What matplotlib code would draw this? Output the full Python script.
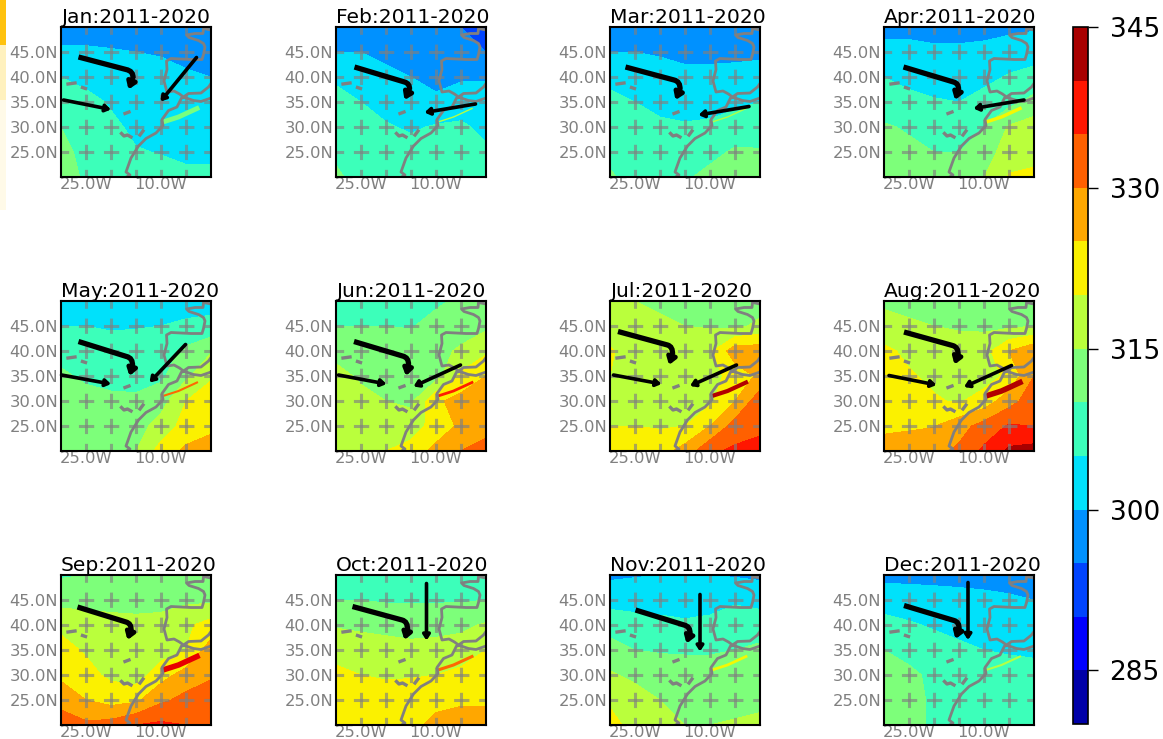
import numpy as np
import matplotlib
matplotlib.use('Agg')
import matplotlib.pyplot as plt
from matplotlib.patches import PathPatch, Rectangle
from matplotlib.path import Path

# ---- grid of the fields (values in K, rows from 50N down to 20N) ----
LONS = [-30, -25, -20, -15, -10, -5, 0]
LATS = [50, 45, 40, 35, 30, 25, 20]
LEVELS = list(range(280, 350, 5))
CBAR_TICKS = [285, 300, 315, 330, 345]
MONTHS = ['Jan', 'Feb', 'Mar', 'Apr', 'May', 'Jun', 'Jul', 'Aug', 'Sep', 'Oct', 'Nov', 'Dec']
X_TICKS = [-25, -20, -15, -10, -5]
Y_TICKS = [25, 30, 35, 40, 45]

JAN = [[297, 297, 297, 296.5, 296.5, 296, 296],
       [301, 301, 300.5, 300, 299.5, 298, 297],
       [305, 303.5, 303, 302, 302, 301, 300],
       [307.5, 306.5, 304.5, 303, 303, 303, 303],
       [310, 307.5, 306, 304, 303, 304, 304],
       [311, 309, 306.5, 305.3, 304.8, 304, 304],
       [311.5, 309.5, 308, 307, 306.5, 306, 306]]
FEB = [[295, 295.5, 295.5, 295.5, 295.5, 295, 293.5],
       [300, 300, 298.5, 297.5, 296.5, 296, 295],
       [304, 303, 301.5, 300, 298.5, 299.5, 299.5],
       [307, 305, 303, 302, 301, 302, 302.5],
       [307.5, 306.5, 305.5, 304.3, 305.5, 306, 303.5],
       [309.5, 308.5, 307.5, 307, 307, 307, 306],
       [310.5, 309, 308, 308, 308, 308, 307.5]]
MAR = [[297, 297, 297, 297, 297, 297, 297.5],
       [300, 300, 299.5, 298.5, 298.5, 298.5, 299],
       [303.5, 302.5, 302, 301.5, 301.5, 302, 302],
       [306.5, 305, 303.5, 303, 303, 303.5, 305],
       [308, 307, 306, 305.5, 306, 308, 307],
       [309, 308.5, 308, 308, 309, 310.5, 310.5],
       [310.5, 308.5, 309, 309.5, 311, 311.5, 311.5]]
APR = [[299, 299, 299, 299, 299, 299, 299.5],
       [301, 301, 300.5, 300.5, 300.8, 302, 302.5],
       [305, 303.5, 302.5, 302.5, 303.5, 305.5, 307],
       [307.5, 306.5, 305.5, 305, 307, 308.5, 311.5],
       [310.5, 309.5, 308, 308, 310, 315.5, 317.5],
       [312, 311, 310, 310, 313, 317, 318.5],
       [313, 312, 311.5, 312, 315, 320.5, 321]]
MAY = [[302, 302, 302, 302, 302, 302.5, 303],
       [305, 305, 304.5, 304.7, 305, 306, 306.5],
       [309, 308, 307, 307, 308, 311, 314.5],
       [310.5, 309.5, 308.5, 308, 309, 314, 319.5],
       [312, 311, 311, 311, 313, 320, 322],
       [313, 313, 313, 313, 317, 322, 324],
       [314, 314, 314, 315, 322, 326, 327]]
JUN = [[308, 308, 308.5, 309, 309.5, 310.5, 311],
       [310, 310, 310, 309.8, 311, 312, 314],
       [314, 313, 312, 311.5, 313, 316, 319],
       [316, 314.5, 313, 312, 313, 321, 325],
       [317, 316, 315, 314, 324, 327, 327],
       [318, 317.5, 317, 317.5, 322, 326, 328],
       [319.5, 320, 320, 322, 326.5, 330, 332]]
JUL = [[316, 315, 314, 313, 313, 313, 313],
       [318, 317, 316, 315, 314.5, 314, 316],
       [320.5, 318, 317.5, 317, 319, 328, 328],
       [320, 318.5, 318, 317.5, 318, 322, 326],
       [319, 319, 318, 318, 319, 325, 333],
       [320, 320, 319.5, 320, 325, 332, 334],
       [321, 322, 323, 327, 334, 336, 336.5]]
AUG = [[314, 313, 313, 313, 313, 313, 314],
       [317, 316, 315, 314.5, 314, 314, 315],
       [321, 319, 317.5, 317, 318, 325, 329],
       [321.5, 320.5, 319, 318, 318, 321, 330],
       [322, 322, 320.5, 319.5, 322, 328, 333],
       [324, 324.5, 324.8, 328, 332, 335.5, 335],
       [327, 327, 328, 331, 336, 341, 342]]
SEP = [[309.5, 310, 311, 311, 311, 312, 313],
       [313, 313, 313, 313, 313.5, 314, 314],
       [319, 318, 317, 316.5, 316.5, 319, 322],
       [321.5, 319.5, 318, 317, 317.5, 320, 327.5],
       [324, 321.5, 319, 317.5, 323, 327, 329.5],
       [328, 325, 323, 324, 329, 331.5, 332],
       [333, 331, 332, 335, 336, 335, 334]]
OCT = [[305, 306.5, 307.5, 308, 308, 308, 308],
       [310, 310, 309.5, 309.5, 309.5, 309.5, 310],
       [314.5, 314, 313.5, 313, 313.5, 314, 315.5],
       [318.5, 317.5, 317, 316.5, 316.5, 317, 320],
       [321, 320, 319.5, 319.5, 320, 321.5, 322],
       [323, 322.5, 322, 323, 324, 324.5, 324.5],
       [325, 325, 324, 324, 326, 326.5, 326.5]]
NOV = [[299, 299.5, 300, 300, 300, 299.5, 299],
       [303.5, 304, 303.5, 303.5, 303.5, 304.5, 303.5],
       [307.5, 306, 306, 305.5, 306, 307, 307.5],
       [312.5, 310, 309.5, 309.5, 309.5, 310, 311],
       [315.5, 314, 313, 312, 312, 312.5, 313],
       [319, 317, 315, 313.5, 313.5, 313.5, 314],
       [322, 318, 316, 315, 315, 315.5, 316]]
DEC = [[298.5, 298.5, 298.5, 298.5, 298.5, 298.5, 297.5],
       [303, 302.5, 302, 301.5, 301, 300.5, 300],
       [306.5, 305.5, 304.5, 303.5, 303, 303, 303],
       [310, 308.5, 307, 306, 305, 304.5, 304],
       [311.5, 311, 309, 308, 307, 307, 307],
       [312, 311, 309.5, 308.5, 308, 308, 308],
       [312.5, 311, 309.5, 309, 308.5, 308.5, 308.5]]
FIELDS = [JAN, FEB, MAR, APR, MAY, JUN, JUL, AUG, SEP, OCT, NOV, DEC]

# ---- thick bent jet track (lon, lat) per month, last point is the tip ----
TRACKS = [
    [(-26.5, 44), (-17, 41.5), (-15.6, 39.8), (-16.5, 37.5)],
    [(-26.3, 42), (-16.3, 39), (-15.3, 37.5), (-16.3, 35.4)],
    [(-26.9, 42), (-17.2, 39.4), (-16, 37.5), (-16.9, 35.4)],
    [(-26.1, 42), (-16.1, 39), (-15.1, 37.5), (-15.8, 35.4)],
    [(-26.5, 41.9), (-16.9, 38.9), (-15.7, 37), (-16.3, 35)],
    [(-26.4, 41.9), (-16.7, 39), (-15.5, 37.2), (-16, 35)],
    [(-28.4, 43.9), (-18.5, 41.2), (-17.5, 39.3), (-18.2, 37.2)],
    [(-26, 43.8), (-16.3, 41.1), (-15.2, 39.3), (-15.9, 37.3)],
    [(-26.7, 43.6), (-17, 40.6), (-16, 39), (-16.7, 37)],
    [(-26.7, 43.7), (-16.8, 41), (-15.7, 39), (-16.3, 37)],
    [(-24.9, 43), (-15.2, 40), (-14, 38.3), (-14.7, 36.3)],
    [(-26, 43.9), (-16, 40.9), (-15, 39.2), (-15.7, 37.2)],
]
# straight arrows: (lon0, lat0, lon1, lat1)
ARROWS = [
    [(-2.9, 43.9, -10.1, 35.1), (-29.5, 35.4, -20, 33.5)],
    [(-2.1, 34.6, -12.3, 32.9)],
    [(-2.2, 34.1, -12.3, 32.4)],
    [(-2, 35.4, -12.1, 33.7)],
    [(-5.1, 41.3, -12.3, 33.7), (-29.9, 35.2, -20, 33.4)],
    [(-5.1, 37.2, -14.5, 32.9), (-29.5, 35.2, -19.9, 33.4)],
    [(-4.7, 37.2, -14, 33), (-29.3, 35.2, -19.7, 33.4)],
    [(-4.5, 37.1, -14, 32.8), (-29, 35.1, -19.5, 33.2)],
    [],
    [(-11.9, 48.3, -11.9, 36.9)],
    [(-12, 46.1, -12, 34.7)],
    [(-13.2, 48.5, -13.2, 37)],
]
# warm stripe over the Atlas, value and width per month
ATLAS_LON = [-9.3, -6.5, -2.8]
ATLAS_LAT = [31.1, 32, 33.7]
ATLAS_VAL = [312, 317, 317, 322, 332, 337, 342, 342, 339, 332, 322, 317]
ATLAS_WID = [3.5, 1, 1, 2.5, 1.5, 2, 3, 4, 4, 2.2, 2, 1.5]

# ---- coast and islands ----
COAST_LON = [0, -1.5, -1.6, -3.2, -4.9, -4.4, -2.5, -1.5, -1.2, -1.5, -1.8, -4, -8, -8.9, -8.8, -9.4, -8.8,
             -7.4, -6.3, -5.5, -4.5, -2, -0.5, 0]
COAST_LAT = [49.4, 49.7, 48.7, 48.7, 48.4, 47.9, 47.3, 46.7, 46, 44.5, 43.5, 43.5, 43.7, 43.2, 41.5, 39.2, 37,
             37.2, 36.6, 36, 36.7, 36.8, 38, 38.7]
AFRICA_LON = [0, -2, -3.5, -5.3, -5.9, -6.8, -8.5, -9.8, -9.6, -11, -13, -14.5, -16, -17, -16.2, -16.9]
AFRICA_LAT = [35.8, 35.1, 35.3, 35.9, 35.8, 34, 33.3, 31.5, 30.3, 28.8, 27.7, 26.2, 23.8, 21, 20.4, 20]
ISLES_LON = [[-28.6, -27.2], [-25.7, -25.1], [-17.2, -16.4], [-17.9, -17.4, -16.7, -16], [-14.2, -13.6]]
ISLES_LAT = [[38.6, 38.8], [37.9, 37.7], [32.7, 33], [28.7, 28.2, 28.4, 28], [28.4, 29.2]]

GREY = '#808080'
W, H = 1163, 739


def px_axes(fig, left, top, right, bottom):
    return fig.add_axes([left / W, 1 - bottom / H, (right - left) / W, (bottom - top) / H])


def draw_track(ax, track):
    p0, p1, p2, tip = track
    # straight run, then a round bend towards the arrow head
    path = Path([p0, p1, (p2[0] + 0.1, p1[1] - 0.3), p2],
                [Path.MOVETO, Path.LINETO, Path.CURVE3, Path.CURVE3])
    ax.add_patch(PathPatch(path, fc='none', ec='k', lw=3.8, capstyle='butt', zorder=5))
    ax.annotate('', xy=tip, xytext=p2, zorder=5,
                arrowprops=dict(arrowstyle='-|>,head_width=0.26,head_length=0.38', color='k', lw=3.4, shrinkA=0, shrinkB=0))


def draw_panel(ax, i):
    cf = ax.contourf(LONS, LATS, FIELDS[i], levels=LEVELS, cmap='jet')

    color = plt.get_cmap('jet')((ATLAS_VAL[i] - 280) / 65)
    ax.plot(ATLAS_LON, ATLAS_LAT, color=color, lw=ATLAS_WID[i], zorder=2)

    ax.plot(COAST_LON, COAST_LAT, color=GREY, lw=2, zorder=3)
    ax.plot(AFRICA_LON, AFRICA_LAT, color=GREY, lw=2, zorder=3)
    for lo, la in zip(ISLES_LON, ISLES_LAT):
        ax.plot(lo, la, color=GREY, lw=2.4, zorder=3)

    draw_track(ax, TRACKS[i])
    for lon0, lat0, lon1, lat1 in ARROWS[i]:
        ax.annotate('', xy=(lon1, lat1), xytext=(lon0, lat0), zorder=5,
                    arrowprops=dict(arrowstyle='-|>,head_width=0.2,head_length=0.3', color='k', lw=2.6, shrinkA=0, shrinkB=0))

    ax.set_xlim(-30, 0)
    ax.set_ylim(20, 50)
    ax.set_xticks(X_TICKS)
    ax.set_xticklabels(['25.0W' if x == -25 else '10.0W' if x == -10 else '' for x in X_TICKS])
    ax.set_yticks(Y_TICKS)
    ax.set_yticklabels([f'{y}.0N' for y in Y_TICKS])
    ax.tick_params(length=0, labelsize=11.8, labelcolor=GREY)
    ax.tick_params(axis='x', pad=0)
    ax.tick_params(axis='y', pad=2)
    ax.grid(True, color=GREY, alpha=0.65, lw=2.2, linestyle=(2.5, (5, 3.2)), zorder=4)
    ax.set_axisbelow(False)
    for s in ax.spines.values():
        s.set_linewidth(1.5)
        s.set_zorder(6)
    ax.set_title(f'{MONTHS[i]}:2011-2020', loc='left', fontsize=14.6, pad=-1)
    return cf


def main():
    fig = plt.figure(figsize=(W / 100, H / 100), dpi=100)

    # scan remnant on the left border
    fig.add_artist(Rectangle((0, 1 - 45 / H), 6 / W, 45 / H, transform=fig.transFigure, color='#FFC20E', lw=0))
    fig.add_artist(Rectangle((0, 1 - 100 / H), 6 / W, 55 / H, transform=fig.transFigure, color='#FFF1BE', lw=0))
    fig.add_artist(Rectangle((0, 1 - 210 / H), 6 / W, 110 / H, transform=fig.transFigure, color='#FFFAE8', lw=0))

    columns = [61, 336, 610, 884]
    rows = [27, 301, 575]
    cf = None
    for i in range(12):
        left = columns[i % 4]
        top = rows[i // 4]
        ax = px_axes(fig, left, top, left + 150, top + 150)
        cf = draw_panel(ax, i)

    cax = px_axes(fig, 1073, 27, 1088, 724)
    cb = fig.colorbar(cf, cax=cax, ticks=CBAR_TICKS)
    cb.ax.tick_params(labelsize=19, length=7, width=1, pad=8.5)
    cb.outline.set_linewidth(1.2)

    fig.savefig('out.png', dpi=100)
    plt.close(fig)


if __name__ == '__main__':
    main()
